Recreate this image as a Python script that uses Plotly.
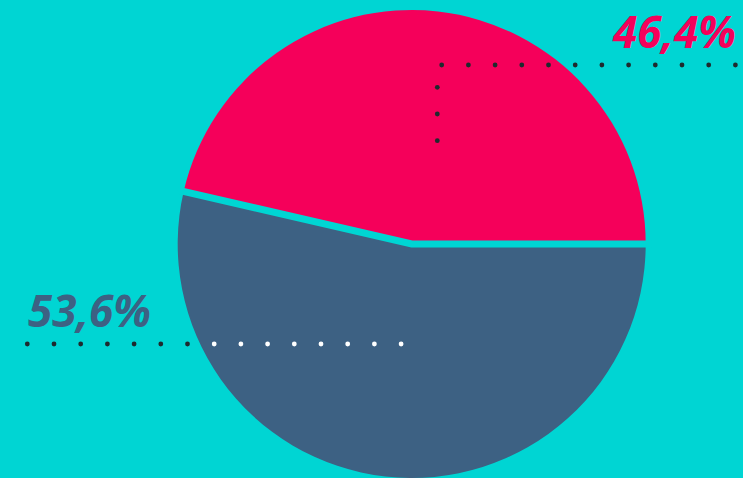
import math
import plotly.graph_objects as go

labels = ["Blue", "Red"]
values = [53.6, 46.4]
label_texts = ["53,6%", "46,4%"]
colors = ["#3D6183", "#F5005A"]
BG = "#00D5D3"
DOT = "#1E2A2E"

W, H = 743, 478
CX, CY, R = 411.7, 244.0, 234.0  # pie centre / radius in pixels


def px(x):
    return x / W


def py(y):
    return 1 - y / H


def clamp(v):
    return min(1.0, max(0.0, v))


fig = go.Figure()
fig.add_trace(go.Pie(
    labels=labels, values=values, sort=False, direction="clockwise",
    rotation=90, textinfo="none", hoverinfo="none", showlegend=False,
    marker=dict(colors=colors, line=dict(width=0)),
    domain=dict(x=[clamp(px(CX - R)), clamp(px(CX + R))],
                y=[clamp(py(CY + R)), clamp(py(CY - R))]),
))

shapes = []
# separation between slices (derived from the data): red spans 0..ang (ccw from east)
ang = 2 * math.pi * values[1] / sum(values)
ext = R + 6
lx, ly = CX + ext * math.cos(ang), CY - ext * math.sin(ang)
rx, ry = CX + ext, CY
shapes.append(dict(
    type="path", xref="paper", yref="paper",
    path=f"M {px(lx)} {py(ly)} L {px(CX)} {py(CY)} L {px(rx)} {py(ry)}",
    line=dict(color=BG, width=7),
))


def dot(x, y, color):
    r = 2.4
    shapes.append(dict(type="circle", xref="paper", yref="paper",
                       x0=px(x - r), x1=px(x + r), y0=py(y + r), y1=py(y - r),
                       fillcolor=color, line=dict(width=0)))


STEP = 26.7
for i in range(12):
    dot(441.7 + i * STEP, 65, DOT)
for j in range(3):
    dot(437.3, 87.3 + j * STEP, DOT)
for i in range(15):
    x = 27.3 + i * STEP
    inside = math.hypot(x - CX, 344 - CY) < R
    dot(x, 344, "white" if inside else DOT)

font = dict(family="Open Sans", size=44, weight="bold", style="italic")
annotations = [
    dict(text=label_texts[1], xref="paper", yref="paper", x=px(737), y=1,
         xanchor="right", yanchor="top", showarrow=False, borderpad=0,
         font=dict(font, color=colors[1])),
    dict(text=label_texts[0], xref="paper", yref="paper", x=px(27), y=py(310),
         xanchor="left", yanchor="middle", showarrow=False, borderpad=0,
         font=dict(font, color=colors[0])),
]

fig.update_layout(
    width=W, height=H, margin=dict(l=0, r=0, t=0, b=0),
    paper_bgcolor=BG, plot_bgcolor=BG,
    shapes=shapes, annotations=annotations,
)
fig.write_html("out.html", config={"displayModeBar": False},
               post_script="document.body.style.margin='0';document.body.style.overflow='hidden';")
